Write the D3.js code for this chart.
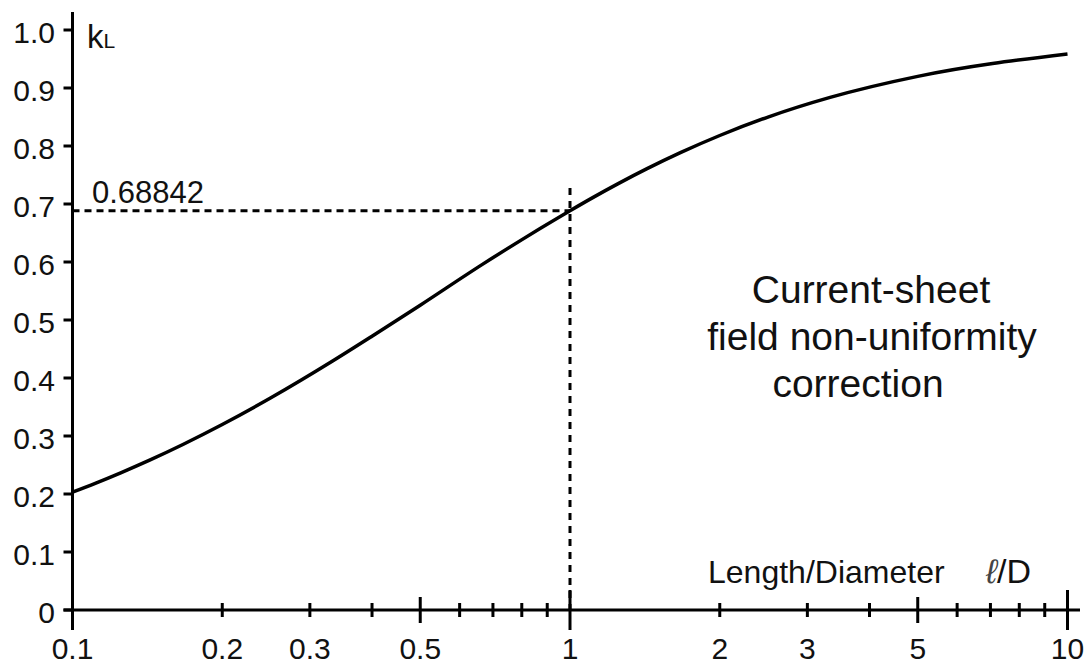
<!DOCTYPE html>
<html><head><meta charset="utf-8">
<script src="https://cdn.jsdelivr.net/npm/d3@7"></script>
<style>
html,body{margin:0;padding:0;background:#fff;}
svg{display:block;font-family:"Liberation Sans",Arial,Helvetica,sans-serif;}
</style></head>
<body><svg id="c" width="1088" height="666"></svg>
<script>
// Length / Diameter ratio
const ratio = [0.1, 0.1111, 0.125, 0.1429, 0.1667, 0.2, 0.25, 0.3333, 0.4, 0.5, 0.6667, 1, 1.111, 1.25, 1.4286, 1.6667, 2, 2.5, 3.333, 5, 10];
// Correction factor k_L
const kL = [0.2033, 0.2185, 0.2366, 0.2584, 0.2854, 0.3198, 0.3654, 0.4292, 0.4720, 0.5255, 0.5959, 0.6884, 0.7110, 0.7351, 0.7609, 0.7885, 0.8181, 0.8499, 0.8838, 0.9201, 0.9588];
const yTicks = [0, 0.1, 0.2, 0.3, 0.4, 0.5, 0.6, 0.7, 0.8, 0.9, 1.0];
const yTickLabels = ["0", "0.1", "0.2", "0.3", "0.4", "0.5", "0.6", "0.7", "0.8", "0.9", "1.0"];
const xMinorTicks = [0.2, 0.3, 0.4, 0.6, 0.7, 0.8, 0.9, 2, 3, 4, 6, 7, 8, 9];
const xMidTicks = [0.5, 5];
const xMajorTicks = [1, 10];
const xTickLabels = [0.1, 0.2, 0.3, 0.5, 1, 2, 3, 5, 10];
const markX = 1, markY = 0.68842;

const svg = d3.select("#c");
const x = d3.scaleLog().domain([0.1, 10]).range([72.5, 1067.5]);
const y = d3.scaleLinear().domain([0, 1]).range([610, 30]);
const x0 = x(0.1), y0 = y(0);

// axes lines
svg.append("line").attr("x1", x0).attr("x2", x0).attr("y1", 12).attr("y2", 630)
  .attr("stroke", "#000").attr("stroke-width", 3);
svg.append("line").attr("x1", x0 - 9).attr("x2", 1080).attr("y1", y0).attr("y2", y0)
  .attr("stroke", "#000").attr("stroke-width", 3);

// y ticks
svg.selectAll(".yt").data(yTicks).join("line")
  .attr("x1", x0 - 9).attr("x2", x0).attr("y1", d => y(d)).attr("y2", d => y(d))
  .attr("stroke", "#000").attr("stroke-width", 3);
svg.selectAll(".yl").data(yTicks).join("text")
  .attr("x", 55).attr("y", d => y(d) + 13)
  .attr("text-anchor", "end").attr("font-size", 30).attr("fill", "#111")
  .text((d, i) => yTickLabels[i]);

// x ticks
function xt(arr, up, down) {
  svg.append("g").selectAll("line").data(arr).join("line")
    .attr("x1", d => x(d)).attr("x2", d => x(d))
    .attr("y1", y0 - up).attr("y2", y0 + down)
    .attr("stroke", "#000").attr("stroke-width", 3);
}
xt(xMinorTicks, 7, 7);
xt(xMidTicks, 13, 13);
xt(xMajorTicks, 20, 20);
svg.append("g").selectAll("text").data(xTickLabels).join("text")
  .attr("x", d => x(d)).attr("y", 659)
  .attr("text-anchor", "middle").attr("font-size", 30).attr("fill", "#111")
  .text(d => d3.format("~g")(d));

// dashed reference lines
svg.append("line").attr("x1", x0).attr("x2", x(markX)).attr("y1", y(markY)).attr("y2", y(markY))
  .attr("stroke", "#000").attr("stroke-width", 3).attr("stroke-dasharray", "7,5");
svg.append("line").attr("x1", x(markX)).attr("x2", x(markX)).attr("y1", 188).attr("y2", y0)
  .attr("stroke", "#000").attr("stroke-width", 3).attr("stroke-dasharray", "7,6");
svg.append("text").attr("x", 92).attr("y", 203).attr("font-size", 31).attr("fill", "#111")
  .text(d3.format(".5f")(markY));

// curve
const pts = ratio.map((r, i) => [r, kL[i]]);
svg.append("path").datum(pts)
  .attr("d", d3.line().x(d => x(d[0])).y(d => y(d[1])).curve(d3.curveMonotoneX))
  .attr("fill", "none").attr("stroke", "#000").attr("stroke-width", 3.5);

// labels
const kl = svg.append("text").attr("x", 87).attr("y", 48).attr("font-size", 33).attr("fill", "#111");
kl.append("tspan").text("k");
kl.append("tspan").attr("font-size", 21).text("L");

svg.append("text").attr("x", 708).attr("y", 583).attr("font-size", 32).attr("fill", "#111").text("Length/Diameter");
const ld = svg.append("text").attr("x", 986).attr("y", 583).attr("font-size", 34).attr("fill", "#111");
ld.append("tspan").attr("font-style", "italic").attr("fill", "#444").text("ℓ");
ld.append("tspan").text("/D");

const ann = [["Current-sheet", 871, 303], ["field non-uniformity", 872, 350], ["correction", 858, 397]];
svg.append("g").selectAll("text").data(ann).join("text")
  .attr("x", d => d[1]).attr("y", d => d[2]).attr("text-anchor", "middle")
  .attr("font-size", 39).attr("fill", "#111").text(d => d[0]);
</script></body></html>
